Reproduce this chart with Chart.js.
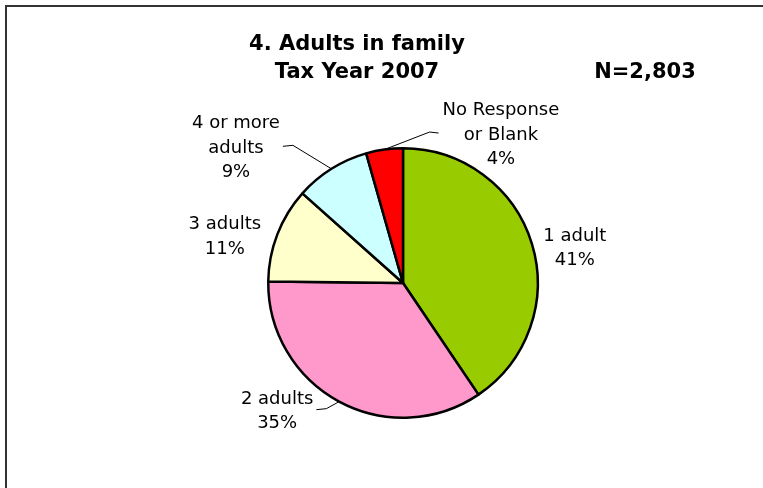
<!DOCTYPE html>
<html lang="en">
<head>
  <meta charset="UTF-8">
  <title>Adults in family</title>
  <script src="https://cdn.jsdelivr.net/npm/chart.js"></script>
  <style>
    html, body { margin: 0; padding: 0; background: #fff; overflow: hidden; }
    #frame {
      position: absolute; left: 5px; top: 5px;
      width: 900px; height: 700px;
      border: 2px solid #333;
    }
    #pie { position: absolute; left: 0; top: 0; }
  </style>
</head>
<body>
  <div id="frame"></div>
  <canvas id="pie" width="763" height="488"></canvas>

  <script>
    // slice data, in drawing order (clockwise from 12 o'clock)
    const categories = ['1 adult', '2 adults', '3 adults', '4 or more adults', 'No Response or Blank'];
    const labelLines = [['1 adult'], ['2 adults'], ['3 adults'], ['4 or more', 'adults'], ['No Response', 'or Blank']];
    const shares = [40.5, 34.6, 11.4, 9.0, 4.4];
    const titleLines = ['4. Adults in family', 'Tax Year 2007'];
    const sampleSize = 'N=2,803';

    const colors = ['#99CC00', '#FF99CC', '#FFFFCC', '#CCFFFF', '#FF0000'];

    // where each label block sits relative to the slice's outer mid point
    const labelNudge = [[43, 3], [-62, 8], [-52.5, 0.5], [-95.5, -22.5], [116.5, -16.5]];
    const hasLeader = [false, true, false, true, true];

    const LABEL_FONT = '18px "DejaVu Sans"';
    const LINE_H = 24.6;

    const pieLabels = {
      id: 'pieLabels',
      afterDatasetsDraw(chart) {
        const ctx = chart.ctx;
        const meta = chart.getDatasetMeta(0);
        ctx.save();
        ctx.font = LABEL_FONT;
        ctx.fillStyle = '#000';
        ctx.textAlign = 'center';
        ctx.textBaseline = 'alphabetic';
        meta.data.forEach((arc, i) => {
          const mid = (arc.startAngle + arc.endAngle) / 2;
          const ex = arc.x + Math.cos(mid) * arc.outerRadius;
          const ey = arc.y + Math.sin(mid) * arc.outerRadius;
          const cx = ex + labelNudge[i][0];
          const cy = ey + labelNudge[i][1];
          const lines = labelLines[i].concat([Math.round(shares[i]) + '%']);
          const top = cy - (lines.length - 1) * LINE_H / 2;
          let w = 0;
          lines.forEach((t, k) => {
            w = Math.max(w, ctx.measureText(t).width);
            ctx.fillText(t, cx, top + k * LINE_H + 6.5);
          });
          if (hasLeader[i]) {
            const left = cx > ex;
            const sx = left ? cx - w / 2 - 4 : cx + w / 2 + 3;
            const kx = left ? sx - 9 : sx + 10;
            ctx.beginPath();
            ctx.strokeStyle = '#000';
            ctx.lineWidth = 1;
            ctx.moveTo(sx, cy);
            ctx.lineTo(kx, cy - 1);
            ctx.lineTo(ex, ey);
            ctx.stroke();
          }
        });

        ctx.font = 'bold 21px "DejaVu Sans"';
        ctx.fillText(titleLines[0], 357, 50);
        ctx.fillText(titleLines[1], 357, 78);
        ctx.fillText(sampleSize, 645, 78);
        ctx.restore();
      }
    };

    new Chart(document.getElementById('pie'), {
      type: 'pie',
      data: {
        labels: categories,
        datasets: [{
          data: shares,
          backgroundColor: colors,
          borderColor: '#000',
          borderWidth: 2.5
        }]
      },
      options: {
        responsive: false,
        animation: false,
        layout: { padding: { left: 267, right: 224, top: 147, bottom: 69 } },
        plugins: {
          legend: { display: false },
          tooltip: { enabled: false }
        }
      },
      plugins: [pieLabels]
    });
  </script>
</body>
</html>
